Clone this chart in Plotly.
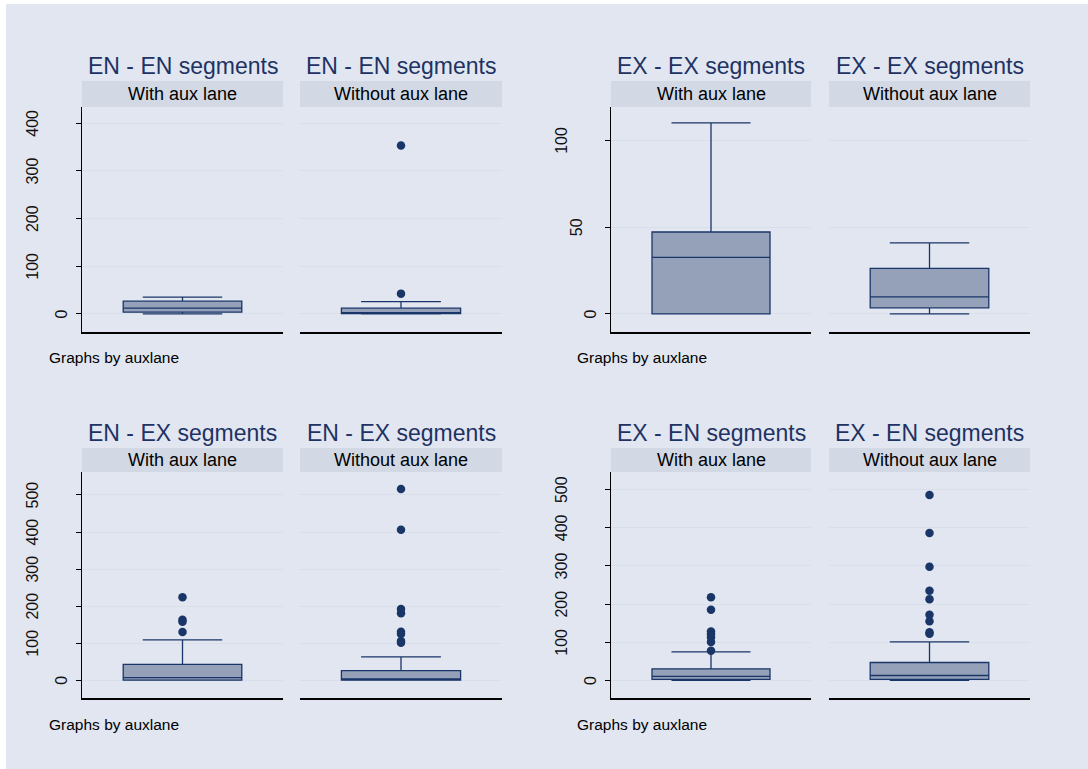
import plotly.graph_objects as go

# Segment groups, each split by auxiliary-lane presence
groups = ["EN - EN segments", "EX - EX segments", "EN - EX segments", "EX - EN segments"]
lanes = ["With aux lane", "Without aux lane"]

# Box summary statistics: [lower whisker, q1, median, q3, upper whisker]
en_en_with = [0, 3.6, 12, 26.6, 35]
en_en_without = [0, 0.5, 1.5, 12, 25.8]
ex_ex_with = [0, 0, 32.6, 47.2, 110]
ex_ex_without = [0, 3.5, 9.8, 26.3, 40.9]
en_ex_with = [0, 0, 7, 43, 109]
en_ex_without = [0, 0, 3.5, 26, 63]
ex_en_with = [0, 2.6, 10.5, 30.5, 75]
ex_en_without = [0, 2.6, 13, 47, 101]

# Outside values
en_en_with_out = []
en_en_without_out = [42.5, 353]
ex_ex_with_out = []
ex_ex_without_out = []
en_ex_with_out = [224, 163, 158, 130]
en_ex_without_out = [516, 406, 192, 181, 131, 125, 106, 101]
ex_en_with_out = [218, 185, 128, 121, 113, 101, 78]
ex_en_without_out = [486, 386, 298, 235, 213, 172, 155, 126, 122]

# y-axis ticks and ranges per group
ticks = [[0, 100, 200, 300, 400], [0, 50, 100], [0, 100, 200, 300, 400, 500], [0, 100, 200, 300, 400, 500]]
yranges = [[-38, 434], [-10.4, 119.2], [-48, 562], [-46, 546]]

stats = [[en_en_with, en_en_without], [ex_ex_with, ex_ex_without],
         [en_ex_with, en_ex_without], [ex_en_with, ex_en_without]]
outs = [[en_en_with_out, en_en_without_out], [ex_ex_with_out, ex_ex_without_out],
        [en_ex_with_out, en_ex_without_out], [ex_en_with_out, ex_en_without_out]]

W, H = 1088, 769
NAVY = "#1a3668"
FILL = "#94a1b9"
BG = "#e1e6f0"
STRIP = "#d2d9e5"
GRID = "#d9dfea"

# pixel layout of each group: (left plot x0,x1), (right plot x0,x1), plot y0,y1, strip y0, title y, note y
col_x = [[(82, 283), (300, 502)], [(611, 811), (829, 1030)]]
row_y = [dict(top=107, bot=332, strip=81, title=66, note=357),
         dict(top=472, bot=698, strip=448, title=433, note=724)]
note_x = [47, 575]

def px(x):
    return x / W

def py(y):
    return 1 - y / H

fig = go.Figure()
layout = dict(width=W, height=H, margin=dict(l=0, r=0, t=0, b=0),
              paper_bgcolor="white", plot_bgcolor="white", showlegend=False,
              font=dict(family="Liberation Sans, Arial, sans-serif", color="#000000"))
shapes = [dict(type="rect", xref="paper", yref="paper", x0=px(6), x1=1, y0=0, y1=py(4),
               fillcolor=BG, line=dict(width=0), layer="below")]
annotations = []

ax = 0
for g in range(4):
    r, c = divmod(g, 2)
    ry = row_y[r]
    ydom = [py(ry["bot"]), py(ry["top"])]
    for k in range(2):
        ax += 1
        x0, x1 = col_x[c][k]
        xa = "x" if ax == 1 else f"x{ax}"
        ya = "y" if ax == 1 else f"y{ax}"
        lo, q1, med, q3, hi = stats[g][k]
        fig.add_trace(go.Box(
            x=[0], q1=[q1], median=[med], q3=[q3], lowerfence=[lo], upperfence=[hi],
            width=0.59, whiskerwidth=0.67, boxpoints=False,
            fillcolor=FILL, line=dict(color=NAVY, width=1.3),
            xaxis=xa, yaxis=ya, hoverinfo="skip"))
        if outs[g][k]:
            fig.add_trace(go.Scatter(
                x=[0] * len(outs[g][k]), y=outs[g][k], mode="markers",
                marker=dict(color=NAVY, size=8.5, line=dict(width=0)),
                xaxis=xa, yaxis=ya, hoverinfo="skip"))
        first = k == 0
        layout["xaxis" if ax == 1 else f"xaxis{ax}"] = dict(
            domain=[px(x0), px(x1)], range=[-0.5, 0.5], showticklabels=False,
            ticks="", showgrid=False, zeroline=False, showline=True,
            linecolor="#000000", linewidth=1.5, anchor=ya, fixedrange=True)
        layout["yaxis" if ax == 1 else f"yaxis{ax}"] = dict(
            domain=ydom, range=yranges[g], tickvals=ticks[g], showticklabels=False,
            ticks="outside" if first else "", ticklen=5, tickcolor="#000000", tickwidth=1,
            showgrid=True, gridcolor=GRID, gridwidth=1.2, zeroline=False,
            showline=first, linecolor="#000000", linewidth=1.3, anchor=xa, fixedrange=True,
            layer="below traces")
        # strip header
        shapes.append(dict(type="rect", xref="paper", yref="paper",
                           x0=px(x0), x1=px(x1), y0=py(ry["top"]), y1=py(ry["strip"]),
                           fillcolor=STRIP, line=dict(width=0)))
        cx = px((x0 + x1) / 2)
        annotations.append(dict(text=lanes[k], xref="paper", yref="paper", x=cx,
                                y=py((ry["top"] + ry["strip"]) / 2), showarrow=False,
                                xanchor="center", yanchor="middle",
                                font=dict(size=18, color="#000000")))
        annotations.append(dict(text=groups[g], xref="paper", yref="paper", x=cx,
                                y=py(ry["title"]), showarrow=False,
                                xanchor="center", yanchor="middle",
                                font=dict(size=23, color="#1e3263")))
        if first:
            # vertical tick labels
            for t in ticks[g]:
                s = str(t)
                off = 6 + 14.5 * len(s)
                annotations.append(dict(text=s, xref="paper", yref=ya, x=px(x0 - off), y=t,
                                        textangle=-90, showarrow=False,
                                        xanchor="center", yanchor="middle",
                                        font=dict(size=16, color="#111111")))
    annotations.append(dict(text="Graphs by auxlane", xref="paper", yref="paper",
                            x=px(note_x[c]), y=py(ry["note"]), showarrow=False,
                            xanchor="left", yanchor="middle",
                            font=dict(size=15.5, color="#000000")))

layout["shapes"] = shapes
layout["annotations"] = annotations
fig.update_layout(**layout)
fig.write_html("out.html")
